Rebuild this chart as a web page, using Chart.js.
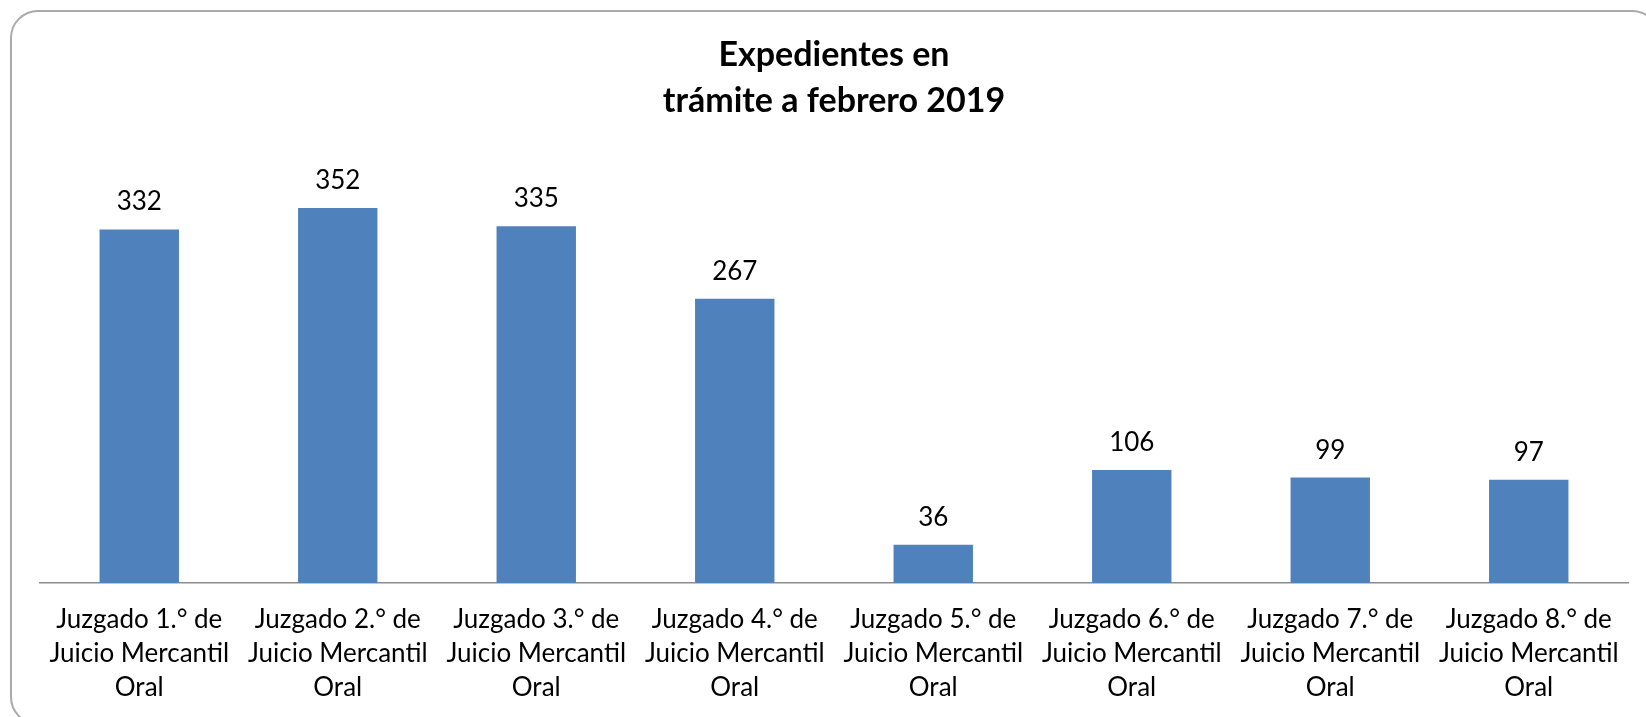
<!DOCTYPE html>
<html>
<head>
<meta charset="utf-8">
<script src="https://cdn.jsdelivr.net/npm/chart.js@4"></script>
<style>
  html, body { margin: 0; padding: 0; background: #fff; overflow: hidden; }
  #wrap { position: relative; width: 1646px; height: 717px; }
  #frame {
    position: absolute; left: 10px; top: 10px; width: 1650px; height: 715px;
    border: 2px solid #aaaaaa; border-radius: 28px; box-sizing: border-box;
  }
  canvas { position: absolute; left: 0; top: 0; }
</style>
</head>
<body>
<div id="wrap">
  <div id="frame"></div>
  <canvas id="chart" width="1646" height="717"></canvas>
</div>
<script>
// Data
const categories = [
  ['Juzgado 1.° de', 'Juicio Mercantil', 'Oral'],
  ['Juzgado 2.° de', 'Juicio Mercantil', 'Oral'],
  ['Juzgado 3.° de', 'Juicio Mercantil', 'Oral'],
  ['Juzgado 4.° de', 'Juicio Mercantil', 'Oral'],
  ['Juzgado 5.° de', 'Juicio Mercantil', 'Oral'],
  ['Juzgado 6.° de', 'Juicio Mercantil', 'Oral'],
  ['Juzgado 7.° de', 'Juicio Mercantil', 'Oral'],
  ['Juzgado 8.° de', 'Juicio Mercantil', 'Oral']
];
const expedientes = [332, 352, 335, 267, 36, 106, 99, 97];
const titleLines = ['Expedientes en', 'trámite a febrero 2019'];

const FONT = 'Lato, "Open Sans", sans-serif';

// value labels above each bar
const valueLabels = {
  id: 'valueLabels',
  afterDatasetsDraw(chart) {
    const ctx = chart.ctx;
    const meta = chart.getDatasetMeta(0);
    ctx.save();
    ctx.font = '26px ' + FONT;
    ctx.fillStyle = '#000';
    ctx.textAlign = 'center';
    ctx.textBaseline = 'alphabetic';
    meta.data.forEach((bar, i) => {
      ctx.fillText(String(expedientes[i]), bar.x, bar.y - 19);
    });
    ctx.restore();
  }
};

new Chart(document.getElementById('chart'), {
  type: 'bar',
  data: {
    labels: categories,
    datasets: [{
      data: expedientes,
      backgroundColor: '#4f81bd',
      borderWidth: 0,
      barPercentage: 0.4,
      categoryPercentage: 1.0
    }]
  },
  options: {
    responsive: false,
    animation: false,
    layout: { padding: { left: 40, right: 18, top: 0, bottom: 0 } },
    plugins: {
      legend: { display: false },
      tooltip: { enabled: false },
      title: {
        display: true,
        text: titleLines,
        color: '#000',
        font: { family: FONT, size: 34, weight: 'bold', lineHeight: '46px' },
        padding: { top: 32, bottom: 33 }
      }
    },
    scales: {
      x: {
        grid: { display: false, drawTicks: false },
        border: { display: true, color: '#8c8c8c', width: 1.5 },
        ticks: {
          color: '#000',
          padding: 20,
          maxRotation: 0,
          autoSkip: false,
          font: { family: FONT, size: 26, lineHeight: '34px' }
        },
        afterFit(scale) { scale.height = 134; }
      },
      y: {
        display: false,
        min: 0,
        max: 400
      }
    }
  },
  plugins: [valueLabels]
});
</script>
</body>
</html>
